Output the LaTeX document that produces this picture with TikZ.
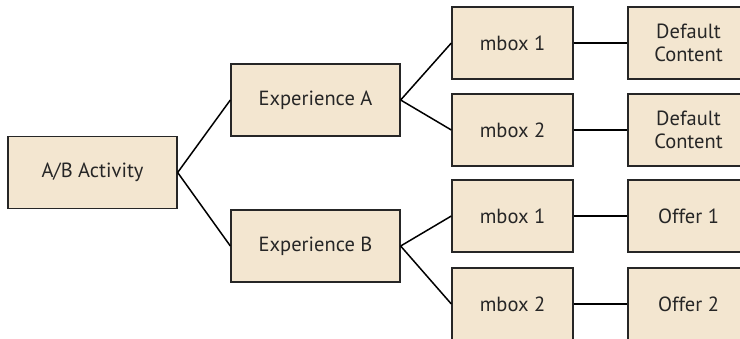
\documentclass[tikz,border=0pt]{standalone}
\usepackage{fontspec}
\setmainfont{PT Sans}
\begin{document}
\begin{tikzpicture}[x=1pt,y=-1pt,
  box/.style={draw=black!85,line width=1.3pt,fill=boxfill,minimum width=#1,minimum height=72pt,inner sep=0pt,align=center,font=\fontsize{20.5}{23}\selectfont,text=black!85},
  box/.default=169pt,
  link/.style={line width=1.5pt,black}]
\definecolor{boxfill}{HTML}{F3E6D0}
\useasboundingbox (0,0) rectangle (740,338);
\clip (0,0) rectangle (740,338);
\node[box] (ab) at (92.5,172.5) {A/B Activity};
\node[box] (ea) at (315.5,100) {Experience A};
\node[box] (eb) at (315.5,246) {Experience B};
\node[box=121pt] (m1) at (512.5,43) {mbox 1};
\node[box=121pt] (m2) at (512.5,130) {mbox 2};
\node[box=121pt] (m3) at (512.5,216) {mbox 1};
\node[box=121pt] (m4) at (512.5,304) {mbox 2};
\node[box=121pt] (c1) at (688.5,43) {Default\\Content};
\node[box=121pt] (c2) at (688.5,130) {Default\\Content};
\node[box=121pt] (c3) at (688.5,216) {Offer 1};
\node[box=121pt] (c4) at (688.5,304) {Offer 2};
\draw[link] (ab.east) -- (ea.west);
\draw[link] (ab.east) -- (eb.west);
\draw[link] (ea.east) -- (m1.west);
\draw[link] (ea.east) -- (m2.west);
\draw[link] (eb.east) -- (m3.west);
\draw[link] (eb.east) -- (m4.west);
\draw[link] (m1) -- (c1);
\draw[link] (m2) -- (c2);
\draw[link] (m3) -- (c3);
\draw[link] (m4) -- (c4);
\end{tikzpicture}
\end{document}
